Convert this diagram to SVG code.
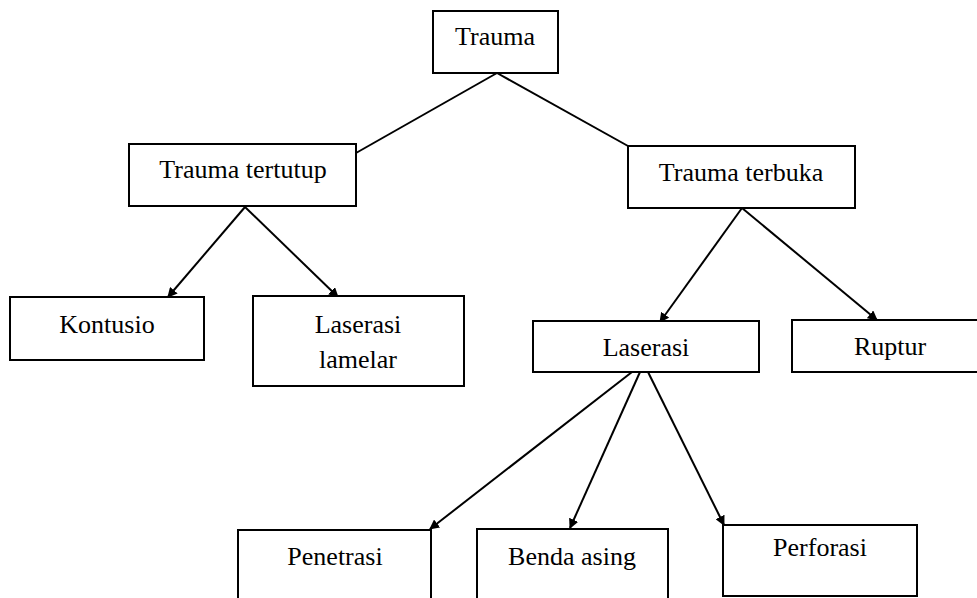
<svg xmlns="http://www.w3.org/2000/svg" width="977" height="598" viewBox="0 0 977 598">
<defs>
<marker id="arr" viewBox="0 0 10 10" refX="9" refY="5" markerWidth="10" markerHeight="10" markerUnits="userSpaceOnUse" orient="auto">
<path d="M0,0 L10,5 L0,10 z" fill="#000"/>
</marker>
</defs>
<style>
.box{fill:#fff;stroke:#000;stroke-width:2}
.lbl{font-family:"Liberation Serif","Times New Roman",serif;font-size:26px;fill:#000;text-anchor:middle}
.ln{stroke:#000;stroke-width:2;fill:none}
.ar{stroke:#000;stroke-width:2;fill:none;marker-end:url(#arr)}
</style>
<rect width="977" height="598" fill="#fff"/>
<g id="connectors">
<line class="ln" x1="497" y1="73" x2="356" y2="153"/>
<line class="ln" x1="497" y1="73" x2="628" y2="146"/>
<line class="ar" x1="245" y1="207" x2="168" y2="297"/>
<line class="ar" x1="245" y1="207" x2="338" y2="297"/>
<line class="ar" x1="742" y1="208" x2="660" y2="322"/>
<line class="ar" x1="742" y1="208" x2="877" y2="320"/>
<line class="ar" x1="632" y1="372" x2="430" y2="529"/>
<line class="ar" x1="640" y1="372" x2="570" y2="528"/>
<line class="ar" x1="648" y1="372" x2="724" y2="525"/>
</g>
<g id="n-trauma">
<rect class="box" x="433" y="11" width="125" height="62"/>
<text class="lbl" x="495" y="45">Trauma</text>
</g>
<g id="n-tertutup">
<rect class="box" x="129" y="144" width="227" height="62"/>
<text class="lbl" x="243" y="178">Trauma tertutup</text>
</g>
<g id="n-terbuka">
<rect class="box" x="628" y="146" width="227" height="62"/>
<text class="lbl" x="741" y="181">Trauma terbuka</text>
</g>
<g id="n-kontusio">
<rect class="box" x="10" y="297" width="194" height="63"/>
<text class="lbl" x="107" y="333">Kontusio</text>
</g>
<g id="n-lamelar">
<rect class="box" x="253" y="296" width="211" height="90"/>
<text class="lbl" x="358" y="333">Laserasi</text>
<text class="lbl" x="358" y="368">lamelar</text>
</g>
<g id="n-laserasi">
<rect class="box" x="533" y="321" width="226" height="51"/>
<text class="lbl" x="646" y="356">Laserasi</text>
</g>
<g id="n-ruptur">
<rect class="box" x="792" y="320" width="198" height="52"/>
<text class="lbl" x="890" y="355">Ruptur</text>
</g>
<g id="n-penetrasi">
<rect class="box" x="238" y="530" width="193" height="80"/>
<text class="lbl" x="335" y="565">Penetrasi</text>
</g>
<g id="n-benda">
<rect class="box" x="477" y="529" width="191" height="80"/>
<text class="lbl" x="572" y="565">Benda asing</text>
</g>
<g id="n-perforasi">
<rect class="box" x="723" y="525" width="194" height="71"/>
<text class="lbl" x="820" y="556">Perforasi</text>
</g>
</svg>
